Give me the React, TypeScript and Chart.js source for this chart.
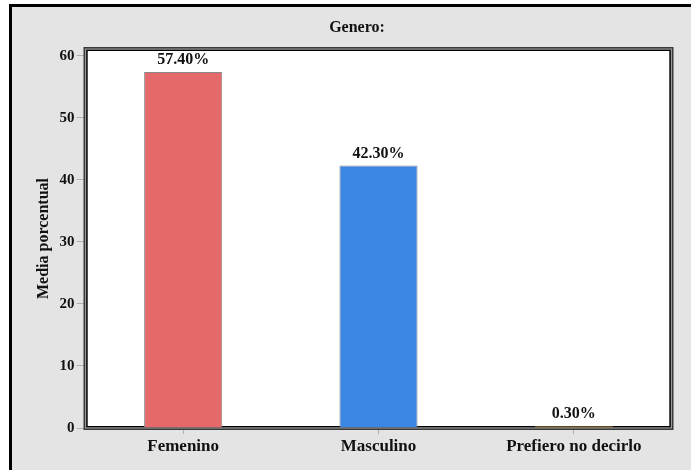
import React, { useEffect, useRef } from "react";
import { Chart, registerables } from "chart.js";

Chart.register(...registerables);

const categories = ["Femenino", "Masculino", "Prefiero no decirlo"];
const values = [57.4, 42.3, 0.3];
const valueLabels = ["57.40%", "42.30%", "0.30%"];
const barColors = ["#e5686a", "#3a86e2", "#c99a3e"];
const barBorders = ["#8a8a8a", "#8a8a8a", "#b8903e"];
const yTicks = [0, 10, 20, 30, 40, 50, 60];
const chartTitle = "Genero:";
const yTitle = "Media porcentual";

const FONT = "'Liberation Serif', 'Times New Roman', serif";

const framePlugin = {
  id: "frame",
  beforeDraw(chart: any) {
    const { ctx, width, height } = chart;
    ctx.save();
    ctx.fillStyle = "#ffffff";
    ctx.fillRect(0, 0, width, height);
    ctx.fillStyle = "#e4e4e4";
    ctx.fillRect(10, 5, width - 10, height - 5);
    ctx.fillStyle = "#000000";
    ctx.fillRect(10, 4, width - 10, 3);
    ctx.fillRect(9, 4, 3, height - 4);
    const a = chart.chartArea;
    ctx.fillStyle = "#ffffff";
    ctx.fillRect(a.left, a.top, a.right - a.left, a.bottom - a.top);
    // title
    ctx.fillStyle = "#111111";
    ctx.font = `bold 16px ${FONT}`;
    ctx.textAlign = "center";
    ctx.textBaseline = "middle";
    ctx.fillText(chartTitle, 357, 28);
    ctx.restore();
  },
  beforeDatasetsDraw(chart: any) {
    const { ctx } = chart;
    const a = chart.chartArea;
    ctx.save();
    ctx.strokeStyle = "#3a3a3a";
    ctx.lineWidth = 4;
    ctx.strokeRect(a.left, a.top, a.right - a.left, a.bottom - a.top);
    ctx.strokeStyle = "#9a9a9a";
    ctx.lineWidth = 1;
    ctx.strokeRect(a.left, a.top, a.right - a.left, a.bottom - a.top);
    ctx.strokeStyle = "#000000";
    ctx.lineWidth = 1;
    ctx.strokeRect(a.left + 1.5, a.top + 1.5, a.right - a.left - 3, a.bottom - a.top - 3);
    ctx.restore();
  },
  afterDatasetsDraw(chart: any) {
    const { ctx } = chart;
    const meta = chart.getDatasetMeta(0);
    ctx.save();
    ctx.fillStyle = "#111111";
    ctx.font = `bold 16px ${FONT}`;
    ctx.textAlign = "center";
    ctx.textBaseline = "bottom";
    meta.data.forEach((bar: any, i: number) => {
      ctx.fillText(valueLabels[i], bar.x, bar.y - 4);
    });
    ctx.restore();
  },
};

export default function App() {
  const ref = useRef<HTMLCanvasElement | null>(null);
  useEffect(() => {
    document.body.style.margin = "0";
    const canvas = ref.current!;
    const chart = new Chart(canvas, {
      type: "bar",
      data: {
        labels: categories,
        datasets: [
          {
            data: values,
            backgroundColor: barColors,
            borderColor: barBorders,
            borderWidth: 1,
            categoryPercentage: 1,
            barPercentage: 0.4,
          },
        ],
      },
      options: {
        animation: false,
        responsive: false,
        devicePixelRatio: 1,
        layout: { padding: { left: 0, right: 19.5, top: 49, bottom: 0 } },
        plugins: {
          legend: { display: false },
          tooltip: { enabled: false },
          title: { display: false },
        },
        scales: {
          x: {
            grid: {
              display: true,
              drawOnChartArea: false,
              color: "#b0b0b0",
              tickLength: 6,
              offset: false,
            },
            border: { display: false },
            ticks: {
              color: "#111111",
              font: { family: FONT, size: 17, weight: "bold" },
              padding: 2,
              maxRotation: 0,
              autoSkip: false,
            },
            afterFit(scale: any) {
              scale.height = 42;
            },
          },
          y: {
            min: 0,
            max: 61.1,
            grid: {
              display: true,
              drawOnChartArea: false,
              color: "#b0b0b0",
              tickLength: 9,
            },
            border: { display: false },
            ticks: {
              stepSize: 10,
              color: "#111111",
              font: { family: FONT, size: 15, weight: "bold" },
              padding: 2,
            },
            afterBuildTicks(scale: any) {
              scale.ticks = yTicks.map((v) => ({ value: v }));
            },
            title: {
              display: true,
              text: yTitle,
              color: "#111111",
              font: { family: FONT, size: 16, weight: "bold", lineHeight: 1.2 },
              padding: { top: 34, bottom: 0 },
            },
            afterFit(scale: any) {
              scale.width = 85.5;
            },
          },
        },
      },
      plugins: [framePlugin],
    });
    return () => chart.destroy();
  }, []);
  return <canvas ref={ref} width={691} height={470} style={{ display: "block" }} />;
}
